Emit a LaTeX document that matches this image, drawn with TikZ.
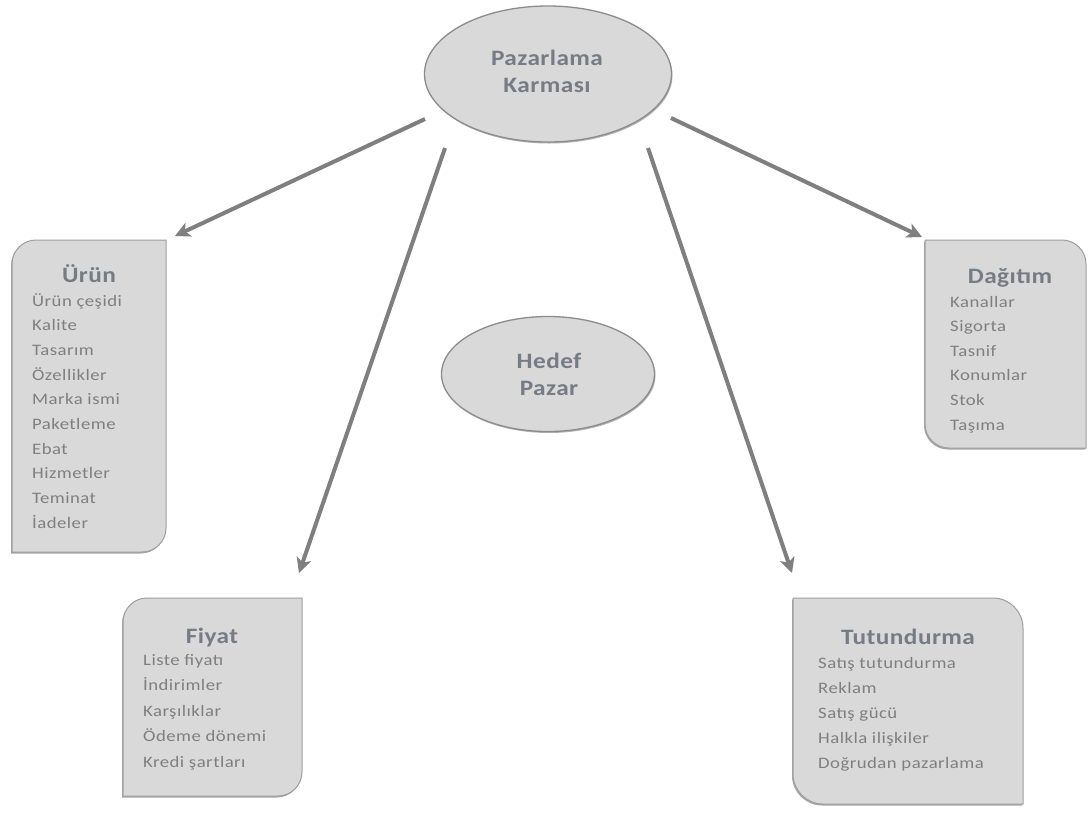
\documentclass[tikz,border=0pt]{standalone}
\usepackage{fontspec}
\setmainfont{Carlito}
\newfontfamily\itemfont[FakeStretch=1.17,LetterSpace=3]{Carlito}
\newfontfamily\titlefont[FakeStretch=1.15,LetterSpace=2]{Carlito}
\usetikzlibrary{arrows.meta,shapes.geometric,shadows}
\definecolor{txt}{HTML}{7F7F7F}
\definecolor{ttl}{HTML}{767C86}
\definecolor{boxfill}{HTML}{D9D9D9}
\definecolor{boxline}{HTML}{9E9E9E}
\definecolor{ellline}{HTML}{8C8C8C}
\definecolor{arrc}{HTML}{7F7F7F}
\newcommand\shapeTLBR[5]{%
  \path[boxstyle] (#1,{#2+#5}) .. controls (#1,{#2+0.45*#5}) and ({#1+0.45*#5},#2) .. ({#1+#5},#2)
    -- (#3,#2) -- (#3,{#4-#5}) .. controls (#3,{#4-0.45*#5}) and ({#3-0.45*#5},#4) .. ({#3-#5},#4)
    -- (#1,#4) -- cycle;}
\newcommand\shapeTRBL[5]{%
  \path[boxstyle] (#1,#2) -- ({#3-#5},#2) .. controls ({#3-0.45*#5},#2) and (#3,{#2+0.45*#5}) .. (#3,{#2+#5})
    -- (#3,#4) -- ({#1+#5},#4) .. controls ({#1+0.45*#5},#4) and (#1,{#4-0.45*#5}) .. (#1,{#4-#5})
    -- cycle;}
\begin{document}
\begin{tikzpicture}[x=1pt,y=-1pt,
  boxstyle/.style={fill=boxfill,draw=boxline,line width=1pt,
    drop shadow={shadow xshift=-1pt,shadow yshift=-1.5pt,opacity=0.35,fill=black}},
  ell/.style={ellipse,fill=boxfill,draw=ellline,line width=1.3pt,inner sep=0pt,
    drop shadow={shadow xshift=1pt,shadow yshift=-1.5pt,opacity=0.3,fill=black}},
  title/.style={anchor=base,inner sep=0pt,text=ttl,font=\titlefont\bfseries\fontsize{22}{26}\selectfont},
  item/.style={anchor=base west,inner sep=0pt,text=txt,font=\itemfont\fontsize{16}{19}\selectfont},
  arr/.style={draw=arrc,line width=4pt,-{Stealth[length=15pt,width=15pt,inset=4pt]}}]
\useasboundingbox (0,0) rectangle (1088,812);
\fill[white] (0,0) rectangle (1088,812);

% ellipses
\node[ell,minimum width=247pt,minimum height=136pt] (pk) at (548,74) {};
\node[title] (pkA) at (547,65) {Pazarlama};
\node[title] (pkB) at (547,92) {Karması};
\node[ell,minimum width=213pt,minimum height=115pt] (hp) at (548,374) {};
\node[title] (hpA) at (549,368) {Hedef};
\node[title] (hpB) at (549,395) {Pazar};

% boxes
\shapeTLBR{12}{240}{166}{552}{24}
\shapeTRBL{925}{240}{1086}{448}{24}
\shapeTLBR{123}{598}{302}{796}{24}
\shapeTRBL{793}{598}{1023}{804}{30}

% Urun
\node[title] (urT) at (89,282) {Ürün};
\foreach \t [count=\i from 0] in {Ürün çeşidi,Kalite,Tasarım,Özellikler,Marka ismi,Paketleme,Ebat,Hizmetler,Teminat,İadeler}
  \node[item] (ur\i) at (32,{306+24.7*\i}) {\t};

% Dagitim
\node[title] (dgT) at (1010,283) {Dağıtım};
\foreach \t [count=\i from 0] in {Kanallar,Sigorta,Tasnif,Konumlar,Stok,Taşıma}
  \node[item] (dg\i) at (950,{307+24.6*\i}) {\t};

% Fiyat
\node[title] (fyT) at (212,643) {Fiyat};
\foreach \t [count=\i from 0] in {Liste fiyatı,İndirimler,Karşılıklar,Ödeme dönemi,Kredi şartları}
  \node[item] (fy\i) at (143,{665+25.5*\i}) {\t};

% Tutundurma
\node[title] (ttT) at (908,644) {Tutundurma};
\foreach \t [count=\i from 0] in {Satış tutundurma,Reklam,Satış gücü,Halkla ilişkiler,Doğrudan pazarlama}
  \node[item] (tt\i) at (818,{668+25*\i}) {\t};

% arrows
\coordinate (s1) at (425,119); \coordinate (e1) at (175,236);
\coordinate (s2) at (445,148); \coordinate (e2) at (299,573);
\coordinate (s3) at (648,148); \coordinate (e3) at (792,573);
\coordinate (s4) at (671,118); \coordinate (e4) at (922,237);
\draw[arr] (s1) -- (e1);
\draw[arr] (s2) -- (e2);
\draw[arr] (s3) -- (e3);
\draw[arr] (s4) -- (e4);
\end{tikzpicture}
\end{document}
